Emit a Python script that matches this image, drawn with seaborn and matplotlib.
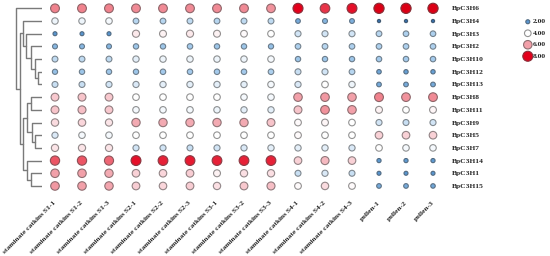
import numpy as np
import pandas as pd
import matplotlib
matplotlib.use("Agg")
import matplotlib.pyplot as plt
from matplotlib.colors import LinearSegmentedColormap
import seaborn as sns

# samples (columns) and genes (rows, top to bottom)
samples = ["staminate catkins S1-1", "staminate catkins S1-2", "staminate catkins S1-3",
           "staminate catkins S2-1", "staminate catkins S2-2", "staminate catkins S2-3",
           "staminate catkins S3-1", "staminate catkins S3-2", "staminate catkins S3-3",
           "staminate catkins S4-1", "staminate catkins S4-2", "staminate catkins S4-3",
           "pollen-1", "pollen-2", "pollen-3"]
genes = ["BpC3H6", "BpC3H4", "BpC3H3", "BpC3H2", "BpC3H10", "BpC3H12", "BpC3H13",
         "BpC3H8", "BpC3H11", "BpC3H9", "BpC3H5", "BpC3H7", "BpC3H14", "BpC3H1", "BpC3H15"]

# expression values
H6 = [6.4, 6.4, 6.4, 6.3, 6.3, 6.3, 6.3, 6.3, 6.2, 8.0, 7.4, 7.8, 8.3, 8.3, 8.3]
H4 = [3.8, 3.8, 3.9, 3.2, 3.2, 3.3, 3.2, 3.3, 3.3, 2.4, 2.6, 2.5, 1.6, 1.6, 1.6]
H3 = [2.0, 2.0, 2.0, 4.5, 4.3, 4.5, 4.3, 4.1, 4.0, 3.5, 3.5, 3.5, 3.2, 3.1, 3.1]
H2 = [2.6, 2.6, 2.6, 2.9, 2.9, 3.0, 2.9, 2.9, 2.8, 3.1, 3.2, 3.1, 3.1, 3.1, 3.1]
H10 = [3.3, 3.3, 3.3, 3.7, 3.8, 3.8, 3.8, 3.8, 3.9, 2.9, 2.9, 2.9, 3.0, 3.0, 3.0]
H12 = [2.8, 2.9, 2.9, 2.9, 3.0, 3.0, 3.0, 3.0, 3.1, 3.4, 3.5, 3.2, 2.3, 2.2, 2.2]
H13 = [3.4, 3.4, 3.5, 3.6, 3.7, 3.7, 3.7, 3.7, 3.9, 3.6, 4.0, 3.8, 2.4, 2.4, 2.4]
H8 = [5.2, 5.3, 5.2, 4.0, 4.0, 4.0, 4.0, 3.9, 3.9, 6.0, 6.1, 6.0, 6.4, 6.2, 6.3]
H11 = [5.3, 5.4, 5.2, 3.9, 3.9, 3.9, 3.8, 3.7, 3.7, 5.3, 6.2, 6.0, 4.3, 4.0, 4.2]
H9 = [4.8, 4.9, 4.6, 5.8, 5.8, 5.8, 5.8, 5.8, 5.3, 4.1, 4.2, 4.0, 3.5, 3.4, 3.5]
H5 = [3.6, 3.9, 3.9, 4.0, 4.0, 4.0, 4.0, 4.0, 4.0, 4.1, 4.0, 4.0, 5.0, 5.0, 5.0]
H7 = [4.6, 4.6, 4.6, 3.5, 3.5, 3.4, 3.5, 3.6, 3.7, 3.7, 3.7, 3.6, 4.0, 3.9, 3.9]
H14 = [7.0, 7.0, 6.8, 7.8, 7.6, 7.7, 7.6, 7.6, 7.6, 5.0, 5.5, 5.0, 2.1, 2.1, 2.1]
H1 = [6.0, 6.0, 5.8, 5.0, 4.9, 5.1, 4.3, 4.7, 4.7, 3.4, 3.6, 3.4, 2.0, 2.0, 2.0]
H15 = [6.1, 6.0, 5.9, 5.1, 4.9, 5.1, 4.7, 5.2, 5.4, 4.1, 4.8, 4.1, 2.4, 2.4, 2.3]
rows = [H6, H4, H3, H2, H10, H12, H13, H8, H11, H9, H5, H7, H14, H1, H15]

# row dendrogram merges: (left, right, height); merge k is called "m{k}"
link = [
    ("BpC3H12", "BpC3H13", 3.4),
    ("BpC3H10", "m0", 6.7),
    ("BpC3H2", "m1", 11.0),
    ("BpC3H3", "m2", 15.7),
    ("BpC3H4", "m3", 19.0),
    ("BpC3H8", "BpC3H11", 11.0),
    ("BpC3H5", "BpC3H7", 6.7),
    ("BpC3H9", "m6", 10.0),
    ("m5", "m7", 15.0),
    ("BpC3H1", "BpC3H15", 10.7),
    ("BpC3H14", "m9", 15.0),
    ("m8", "m10", 18.4),
    ("m4", "m11", 21.7),
    ("BpC3H6", "m12", 25.7),
]

legend_vals = [2.0, 4.0, 6.0, 8.0]
legend_labels = ["2.00", "4.00", "6.00", "8.00"]

df = pd.DataFrame(rows, index=genes, columns=samples)
long = df.reset_index().melt(id_vars="index", var_name="sample", value_name="value")
long = long.rename(columns={"index": "gene"})
long["xi"] = long["sample"].map({s: i for i, s in enumerate(samples)})
long["yi"] = long["gene"].map({g: i for i, g in enumerate(genes)})

lo, hi = 1.5, 8.5
stops = [(1.5, "#2f66a3"), (2.0, "#5896d0"), (3.0, "#a5cbec"), (4.0, "#ffffff"),
         (5.0, "#f9d2d7"), (6.0, "#f2a0a9"), (7.0, "#ec5766"), (8.0, "#e3001b"), (8.5, "#d60012")]
cmap = LinearSegmentedColormap.from_list("expr", [((v - lo) / (hi - lo), c) for v, c in stops])

sns.set_style("white")
plt.rcParams["font.family"] = ["Liberation Serif", "DejaVu Serif"]
font = dict(fontsize=5.4, fontweight="bold")

fig = plt.figure(figsize=(5.5, 2.56), dpi=100)
W, H = 550.0, 256.0
top_px, bot_px = 2.0, 192.3
ax = fig.add_axes([41.5 / W, 1 - bot_px / H, 405 / W, (bot_px - top_px) / H])

scat_kw = dict(hue="value", size="value", palette=cmap, hue_norm=(lo, hi),
               sizes=(1.05, 59.05), size_norm=(1, 9), linewidth=0.8, legend=False)


def darken_edges(axis):
    # outline = fill mixed with dark gray, like the reference's rings
    coll = axis.collections[-1]
    fc = np.asarray(coll.get_facecolors())
    ec = fc.copy()
    ec[:, :3] = 0.4 * fc[:, :3] + 0.6 * 0.3
    coll.set_edgecolors(ec)


sns.scatterplot(data=long, x="xi", y="yi", ax=ax, **scat_kw)
darken_edges(ax)

ax.set_xlim(-0.5, len(samples) - 0.5)
ax.set_ylim(len(genes) - 0.5, -0.5)
ax.set_xticks(range(len(samples)))
ax.set_xticklabels(samples, rotation=45, ha="right", va="center", rotation_mode="anchor", **font)
ax.yaxis.tick_right()
ax.set_yticks(range(len(genes)))
ax.set_yticklabels(genes, **font)
ax.tick_params(axis="both", length=0)
ax.tick_params(axis="x", pad=7)
ax.tick_params(axis="y", pad=3.7)
ax.set_xlabel("")
ax.set_ylabel("")
sns.despine(ax=ax, left=True, bottom=True)

# dendrogram on the left
axd = fig.add_axes([0, 1 - bot_px / H, 41.7 / W, (bot_px - top_px) / H])
pos = {g: i for i, g in enumerate(genes)}
hgt = {g: 0.0 for g in genes}
for k, (a, b, h) in enumerate(link):
    axd.plot([hgt[a], h, h, hgt[b]], [pos[a], pos[a], pos[b], pos[b]], color="#7a7a7a", lw=1.0)
    pos[f"m{k}"] = (pos[a] + pos[b]) / 2
    hgt[f"m{k}"] = h
axd.set_xlim(41.7, 0)
axd.set_ylim(len(genes) - 0.5, -0.5)
axd.axis("off")

# legend
axl = fig.add_axes([520 / W, 1 - 62 / H, 30 / W, 46 / H])
leg = pd.DataFrame({"x": [0.26] * len(legend_vals), "y": range(len(legend_vals)), "value": legend_vals})
sns.scatterplot(data=leg, x="x", y="y", ax=axl, **scat_kw)
darken_edges(axl)
for i, lab in enumerate(legend_labels):
    axl.text(0.42, i, lab, ha="left", va="center", **font)
axl.set_xlim(0, 1)
axl.set_ylim(len(legend_vals) - 0.5, -0.5)
axl.axis("off")

fig.savefig("out.png", dpi=100)
